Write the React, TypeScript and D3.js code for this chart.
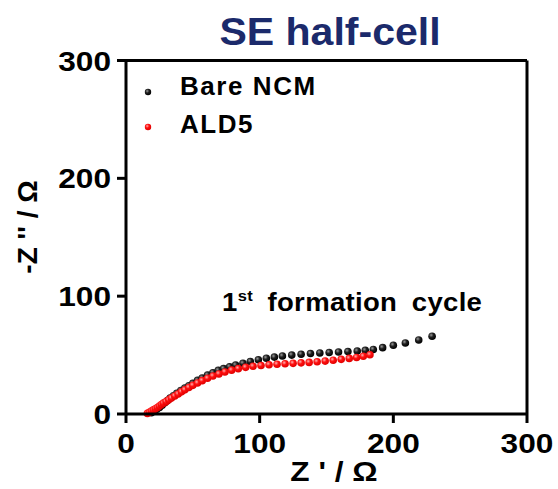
import React from "react";
import * as d3 from "d3";

const bareNCM: [number, number][] = [
  [19, 1], [21, 2.5], [23, 4], [25, 5.5], [27, 7.5], [29, 9.5], [31, 11.5], [33, 13.5],
  [35.5, 15.5], [38, 17.5], [41, 20], [44, 22], [47, 24], [50, 26], [53.5, 28.5], [57, 30.5],
  [61, 33], [65, 35], [69, 37], [73, 38.5], [77.5, 40], [82, 41.5], [87.5, 43], [93, 44.5],
  [99, 46], [105, 47.3], [111, 48.3], [117, 49.2], [124, 50], [131, 50.7], [138, 51.3],
  [145, 51.8], [152, 52.2], [159, 52.6], [166, 53], [173, 53.4], [179, 54], [185, 54.8],
  [192, 56.3], [200, 58.3], [209, 60.3], [219, 62.8], [229, 66],
];

const ald5: [number, number][] = [
  [16, 0.5], [17.5, 1.5], [19, 2.5], [20.5, 3.5], [22, 4.5], [23.5, 5.5], [25, 6.7], [26.5, 8],
  [28, 9.2], [30, 10.5], [32, 12], [34, 13.5], [36.5, 15.3], [39, 17], [41.5, 18.8], [44, 20.5],
  [47, 22.5], [50, 24.3], [53.5, 26.3], [57, 28.3], [61, 30.3], [65, 32.2], [69.5, 34],
  [74, 35.7], [79, 37.2], [84, 38.5], [89.5, 39.6], [95, 40.5], [101, 41.2], [107, 41.8],
  [113, 42.2], [119, 42.6], [125, 43], [131, 43.4], [137, 43.8], [143, 44.3], [149, 44.9],
  [155, 45.6], [161, 46.4], [167, 47.2], [172.5, 48], [177.5, 49], [182.5, 50.3],
];

const xTicks = [0, 100, 200, 300];
const yTicks = [0, 100, 200, 300];
const seriesNames = ["Bare NCM", "ALD5"];
const titleText = "SE half-cell";

const W = 558;
const H = 489;
const left = 126;
const right = 527;
const top = 60.5;
const bottom = 414;
const font = "'Liberation Sans', Arial, Helvetica, sans-serif";
const SX = 1.13;

function T(props: {
  x: number;
  y: number;
  size: number;
  anchor?: "start" | "middle" | "end";
  sx?: number;
  rotate?: number;
  fill?: string;
  ls?: number;
  children: React.ReactNode;
}) {
  const { x, y, size, anchor = "start", sx = SX, rotate = 0, fill = "#000", ls = 0, children } = props;
  return (
    <text
      transform={`translate(${x},${y}) rotate(${rotate}) scale(${sx},1)`}
      textAnchor={anchor}
      fontSize={size}
      fontWeight="bold"
      fill={fill}
      letterSpacing={ls}
    >
      {children}
    </text>
  );
}

export default function App() {
  const x = d3.scaleLinear().domain([0, 300]).range([left, right]);
  const y = d3.scaleLinear().domain([0, 300]).range([bottom, top]);
  const r = 3.8;

  return (
    <svg
      width={W}
      height={H}
      style={{ position: "absolute", left: 0, top: 0, background: "#fff" }}
      fontFamily={font}
    >
      <defs>
        <radialGradient id="gBlack" cx="38%" cy="35%" r="65%">
          <stop offset="0%" stopColor="#9a9a9a" />
          <stop offset="45%" stopColor="#202020" />
          <stop offset="100%" stopColor="#000" />
        </radialGradient>
        <radialGradient id="gRed" cx="38%" cy="35%" r="65%">
          <stop offset="0%" stopColor="#ffb0b0" />
          <stop offset="45%" stopColor="#ff1010" />
          <stop offset="100%" stopColor="#e00000" />
        </radialGradient>
      </defs>
      <rect width={W} height={H} fill="#fff" />

      {/* title */}
      <T x={330} y={45} size={38} anchor="middle" sx={1.08} fill="#1b2a6b">
        {titleText}
      </T>

      {/* data */}
      {bareNCM.map((d, i) => (
        <circle key={"b" + i} cx={x(d[0])} cy={y(d[1])} r={r} fill="url(#gBlack)" />
      ))}
      {ald5.map((d, i) => (
        <circle key={"a" + i} cx={x(d[0])} cy={y(d[1])} r={r} fill="url(#gRed)" />
      ))}

      {/* frame */}
      <g stroke="#000" strokeWidth={3} fill="none">
        <line x1={left} y1={top} x2={right} y2={top} />
        <line x1={left} y1={top} x2={left} y2={bottom} />
        <line x1={left} y1={bottom} x2={right} y2={bottom} />
        <line x1={right} y1={top} x2={right} y2={bottom} />
        {yTicks.map((t) => (
          <line key={"yt" + t} x1={left - 9} x2={left} y1={y(t)} y2={y(t)} />
        ))}
        {xTicks.map((t) => (
          <line key={"xt" + t} x1={x(t)} x2={x(t)} y1={bottom} y2={bottom + 9} />
        ))}
      </g>

      {/* tick labels */}
      {yTicks.map((t) => (
        <T key={"yl" + t} x={left - 15} y={y(t) + 10} size={28} anchor="end">
          {t}
        </T>
      ))}
      {xTicks.map((t) => (
        <T key={"xl" + t} x={x(t)} y={453} size={28} anchor="middle">
          {t}
        </T>
      ))}

      {/* axis titles */}
      <T x={334} y={481} size={28} anchor="middle">
        Z ' / Ω
      </T>
      <T x={37} y={227} size={28} anchor="middle" rotate={-90} sx={1}>
        -Z '' / Ω
      </T>

      {/* legend */}
      <circle cx={148} cy={92} r={3.2} fill="url(#gBlack)" />
      <T x={180} y={95} size={25} ls={1.5} sx={1.04}>
        {seriesNames[0]}
      </T>
      <circle cx={148} cy={127} r={3.2} fill="url(#gRed)" />
      <T x={180} y={133} size={25} ls={1.5} sx={1.04}>
        {seriesNames[1]}
      </T>

      {/* annotation */}
      <T x={222} y={311} size={25} sx={1.1} ls={0.3}>
        1<tspan fontSize={15} dy={-10}>st</tspan>
        <tspan dy={10} wordSpacing={6}> formation cycle</tspan>
      </T>
    </svg>
  );
}
